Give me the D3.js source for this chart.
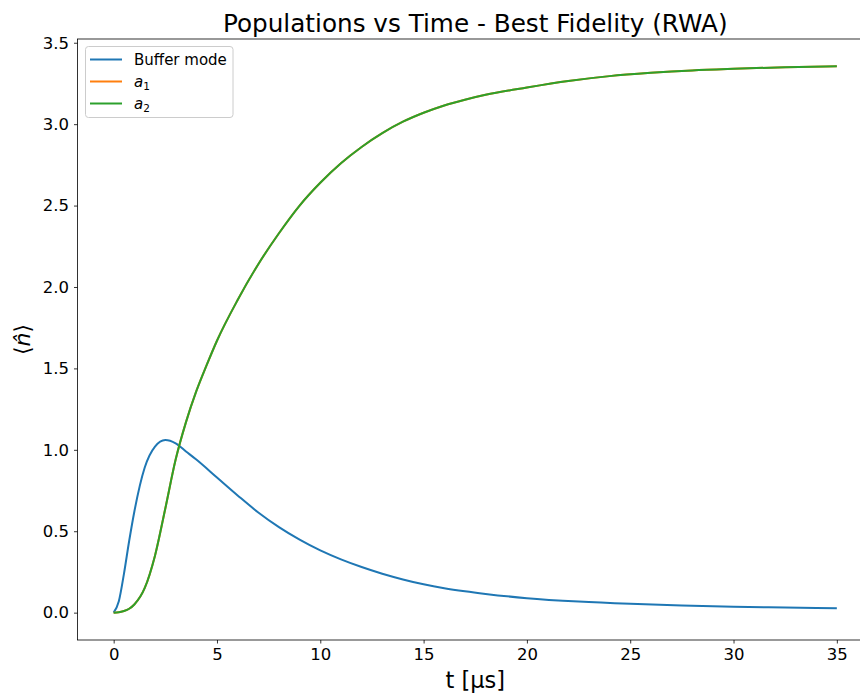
<!DOCTYPE html>
<html>
<head>
<meta charset="utf-8">
<script src="https://cdn.jsdelivr.net/npm/d3@7"></script>
<style>
  body { margin: 0; background: #fff; }
  svg { display: block; font-family: "DejaVu Sans", sans-serif; }
</style>
</head>
<body>
<div id="chart"></div>
<script>
// time points (µs) and populations
var tBuffer = [0, 0.25, 0.5, 0.75, 1.0, 1.5, 2.0, 2.5, 3.0, 3.5, 4.0, 5.0, 6.0, 7.0, 8.0, 9.0, 10, 11, 12, 13, 14, 15, 16, 17, 18, 20, 22.5, 25, 27.5, 30, 32.5, 35];
var buffer  = [0, 0.07, 0.24, 0.44, 0.62, 0.89, 1.02, 1.06, 1.04, 0.99, 0.94, 0.83, 0.72, 0.615, 0.525, 0.448, 0.382, 0.327, 0.28, 0.239, 0.204, 0.174, 0.15, 0.131, 0.115, 0.089, 0.068, 0.054, 0.044, 0.036, 0.031, 0.027];

var tMode = [0, 0.25, 0.5, 0.75, 1.0, 1.5, 2.0, 2.5, 3.0, 3.5, 4.0, 4.5, 5.0, 6.0, 7.0, 8.0, 9.0, 10, 11, 12, 13, 14, 15, 16, 17, 18, 20, 22, 24, 26, 28, 30, 32.5, 35];
var a1 = [0, 0.002, 0.01, 0.024, 0.05, 0.15, 0.35, 0.64, 0.94, 1.17, 1.36, 1.52, 1.67, 1.92, 2.14, 2.33, 2.50, 2.64, 2.76, 2.86, 2.945, 3.015, 3.07, 3.115, 3.15, 3.18, 3.225, 3.265, 3.295, 3.315, 3.33, 3.34, 3.35, 3.355];
var a2 = [0, 0.002, 0.01, 0.024, 0.05, 0.15, 0.35, 0.64, 0.94, 1.17, 1.36, 1.52, 1.67, 1.92, 2.14, 2.33, 2.50, 2.64, 2.76, 2.86, 2.945, 3.015, 3.07, 3.115, 3.15, 3.18, 3.225, 3.265, 3.295, 3.315, 3.33, 3.34, 3.35, 3.355];

var xTicks = [0, 5, 10, 15, 20, 25, 30, 35];
var yTicks = [0, 0.5, 1.0, 1.5, 2.0, 2.5, 3.0, 3.5];

var series = [
  {name: "buffer", t: tBuffer, v: buffer, color: "#1f77b4"},
  {name: "a1", t: tMode, v: a1, color: "#ff7f0e"},
  {name: "a2", t: tMode, v: a2, color: "#2ca02c"}
];

var width = 860, height = 695;
var axLeft = 77.5, axRight = 873, axTop = 39, axBottom = 640;

var svg = d3.select("#chart").append("svg")
  .attr("width", width)
  .attr("height", height);

var x = d3.scaleLinear().domain([-1.75, 36.75]).range([axLeft, axRight]);
var y = d3.scaleLinear().domain([-0.168, 3.523]).range([axBottom, axTop]);

var plot = svg.append("g");

var line = d3.line()
  .x(d => x(d[0]))
  .y(d => y(d[1]))
  .curve(d3.curveMonotoneX);

series.forEach(function(s) {
  plot.append("path")
    .datum(s.t.map((t, i) => [t, s.v[i]]))
    .attr("d", line)
    .attr("fill", "none")
    .attr("stroke", s.color)
    .attr("stroke-width", 2)
    .attr("stroke-linejoin", "round")
    .attr("stroke-linecap", "butt");
});

// axes
var xAxis = d3.axisBottom(x).tickValues(xTicks).tickSize(3.5).tickPadding(5).tickFormat(d3.format("d"));
var yAxis = d3.axisLeft(y).tickValues(yTicks).tickSize(3.5).tickPadding(5).tickFormat(d3.format(".1f"));

var gx = svg.append("g").attr("transform", "translate(0," + axBottom + ")").call(xAxis);
var gy = svg.append("g").attr("transform", "translate(" + axLeft + ",0)").call(yAxis);

[gx, gy].forEach(function(g) {
  g.select(".domain").remove();
  g.attr("font-family", "DejaVu Sans").attr("font-size", 16.5);
  g.selectAll(".tick line").attr("stroke", "#000").attr("stroke-width", 0.8);
  g.selectAll(".tick text").attr("fill", "#000");
});

// spines
svg.append("rect")
  .attr("x", axLeft).attr("y", axTop)
  .attr("width", axRight - axLeft).attr("height", axBottom - axTop)
  .attr("fill", "none")
  .attr("stroke", "#000")
  .attr("stroke-width", 0.8);

// title and labels
svg.append("text")
  .attr("x", (axLeft + axRight) / 2).attr("y", 32)
  .attr("text-anchor", "middle")
  .style("font-size", "24.7px")
  .text("Populations vs Time - Best Fidelity (RWA)");

svg.append("text")
  .attr("x", (axLeft + axRight) / 2).attr("y", 688)
  .attr("text-anchor", "middle")
  .style("font-size", "22.5px")
  .text("t [µs]");

svg.append("text")
  .attr("transform", "translate(30," + ((axTop + axBottom) / 2) + ") rotate(-90)")
  .attr("text-anchor", "middle")
  .style("font-size", "22px")
  .html("⟨<tspan font-style='italic'>n̂</tspan>⟩");

// legend
var legend = svg.append("g");
legend.append("rect")
  .attr("x", 85.5).attr("y", 46.5)
  .attr("width", 147.5).attr("height", 71)
  .attr("rx", 3)
  .attr("fill", "#fff").attr("fill-opacity", 0.8)
  .attr("stroke", "#ccc").attr("stroke-width", 1);

var legendRows = [
  {color: "#1f77b4", label: "Buffer mode", sub: null},
  {color: "#ff7f0e", label: "a", sub: "1"},
  {color: "#2ca02c", label: "a", sub: "2"}
];

legendRows.forEach(function(r, i) {
  var yy = 59.5 + i * 22;
  legend.append("line")
    .attr("x1", 90).attr("x2", 122)
    .attr("y1", yy).attr("y2", yy)
    .attr("stroke", r.color).attr("stroke-width", 2);
  var t = legend.append("text")
    .attr("x", 134).attr("y", yy + 5)
    .style("font-size", "15px");
  if (r.sub) {
    t.append("tspan").attr("font-style", "italic").text(r.label);
    t.append("tspan").attr("dy", 3).style("font-size", "10.5px").text(r.sub);
  } else {
    t.text(r.label);
  }
});
</script>
</body>
</html>
